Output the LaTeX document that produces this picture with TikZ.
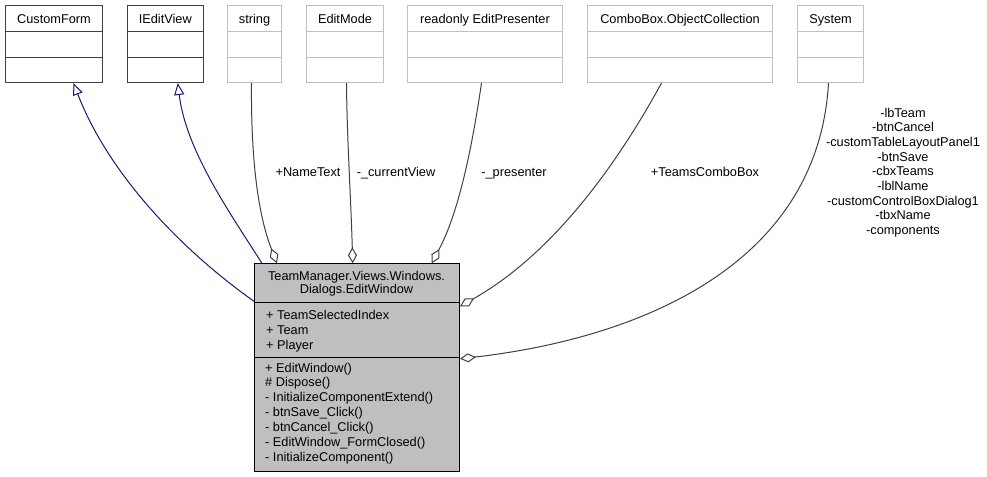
\documentclass[tikz,border=0pt]{standalone}
\usepackage{fontspec}
\setmainfont{Liberation Sans}
\usetikzlibrary{arrows.meta}
\definecolor{inhblue}{HTML}{191970}
\definecolor{aggrgray}{HTML}{404040}
\definecolor{boxgray}{HTML}{BFBFBF}
\begin{document}
\begin{tikzpicture}[x=1bp,y=-1bp,font=\fontsize{12.8}{15}\selectfont,
cls/.style={draw=#1,line width=1bp,anchor=north west,inner sep=0pt,
text height=17.7bp,text depth=59.3bp,
path picture={\draw[#1,line width=1bp]
([yshift=-26bp]path picture bounding box.north west)--([yshift=-26bp]path picture bounding box.north east)
([yshift=-51.7bp]path picture bounding box.north west)--([yshift=-51.7bp]path picture bounding box.north east);}},
inherit/.style={draw=inhblue,line width=1bp,-{Triangle[open,length=12bp,width=10bp]}},
aggr/.style={draw=aggrgray,line width=1bp,-{Diamond[open,length=16bp,width=9bp]}},
lbl/.style={anchor=base,inner sep=0pt}]
\useasboundingbox (0,0) rectangle (987,477);
% top row
\node[cls=aggrgray,minimum width=97bp] (customform) at (5,5) {CustomForm};
\node[cls=aggrgray,minimum width=75.5bp] (ieditview) at (127,5) {IEditView};
\node[cls=boxgray,minimum width=54bp] (stringbox) at (227,5) {string};
\node[cls=boxgray,minimum width=77bp] (editmode) at (306,5) {EditMode};
\node[cls=boxgray,minimum width=155bp] (presenter) at (407,5) {readonly EditPresenter};
\node[cls=boxgray,minimum width=185bp] (combo) at (587,5) {ComboBox.ObjectCollection};
\node[cls=boxgray,minimum width=66bp] (system) at (797,5) {System};
% the class
\node[draw=black,fill=boxgray,line width=1bp,anchor=north west,inner sep=0pt,
minimum width=205bp,minimum height=207.4bp] (ew) at (254,263.3) {};
\draw[line width=1bp] ([yshift=-39bp]ew.north west)--([yshift=-39bp]ew.north east)
([yshift=-94.2bp]ew.north west)--([yshift=-94.2bp]ew.north east);
\node[anchor=base,align=center,inner sep=0pt,font=\fontsize{12.8}{13.3}\selectfont]
(ewtitle) at (356.5,293.3) {TeamManager.Views.Windows.\\Dialogs.EditWindow};
\node[anchor=base west,align=left,inner sep=0pt] (ewattr) at (266,349.3)
{+ TeamSelectedIndex\\+ Team\\+ Player};
\node[anchor=base west,align=left,inner sep=0pt] (ewops) at (265,461.7)
{+ EditWindow()\\\# Dispose()\\- InitializeComponentExtend()\\- btnSave\_Click()\\- btnCancel\_Click()\\- EditWindow\_FormClosed()\\- InitializeComponent()};
% inheritance
\draw[inherit] ([yshift=-38bp]ew.north west) .. controls (176,246) and (107,170) .. ([xshift=19.5bp]customform.south);
\draw[inherit] ([xshift=8bp]ew.north west) .. controls (228,210) and (186,150) .. ([xshift=12.5bp]ieditview.south);
% members
\draw[aggr] ([xshift=-3bp]stringbox.south) .. controls (251,142) and (255,207) .. ([xshift=23bp]ew.north west);
\draw[aggr] ([xshift=1.5bp]editmode.south) .. controls (347,140) and (351,200) .. ([xshift=98.7bp]ew.north west);
\draw[aggr] ([xshift=-3.5bp]presenter.south) .. controls (473,141) and (460,210) .. ([xshift=177.7bp]ew.north west);
\draw[aggr] ([xshift=-18.5bp]combo.south) .. controls (625,150) and (560,250) .. ([yshift=-43bp]ew.north east);
\draw[aggr] ([xshift=-2bp]system.south) .. controls (818,265) and (640,338) .. ([yshift=-95.5bp]ew.north east);
\node[lbl] (nametext) at (308,176.6) {+NameText};
\node[lbl] (currentview) at (396,176.6) {-\_currentView};
\node[lbl] (presenterlbl) at (514,176.6) {-\_presenter};
\node[lbl] (teamscombo) at (705,176.6) {+TeamsComboBox};
\node[lbl,align=center,font=\fontsize{12.8}{14.7}\selectfont] (systemlbl) at (903,234.3)
{-lbTeam\\-btnCancel\\-customTableLayoutPanel1\\-btnSave\\-cbxTeams\\-lblName\\-customControlBoxDialog1\\-tbxName\\-components};
\end{tikzpicture}
\end{document}
